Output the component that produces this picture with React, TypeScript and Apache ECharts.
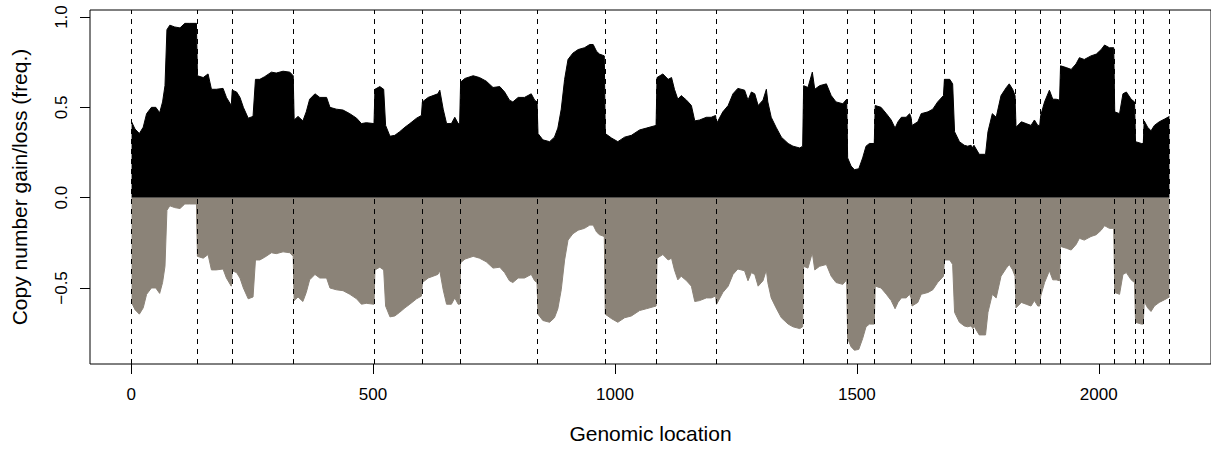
import React, { useEffect, useRef } from "react";
import * as echarts from "echarts";

// Genomic position (probe index) of each sampled point
const positions = [
  1, 8, 17, 25, 32, 42, 51, 59, 65, 70, 74, 80, 90, 101, 111, 121, 135,
  137, 149, 159, 166, 176, 190, 197, 207,
  209, 218, 225, 232, 242, 252, 257, 266, 276, 290, 300, 314, 328, 335,
  337, 345, 355, 362, 369, 380, 390, 404, 411, 424, 438, 452, 466, 476, 486, 502,
  504, 514, 522, 526, 535, 545, 555, 566, 576, 590, 600,
  602, 614, 624, 634, 638, 645, 652, 662, 669, 676, 679,
  681, 690, 707, 720, 734, 748, 762, 772, 782, 789, 800, 813, 827, 834, 839,
  841, 851, 865, 875, 882, 889, 896, 903, 913, 924, 937, 948, 955, 962, 968, 978,
  980, 993, 1006, 1020, 1034, 1051, 1065, 1085,
  1087, 1099, 1110, 1117, 1123, 1130, 1137, 1148, 1158, 1165, 1175, 1189, 1199, 1208,
  1210, 1223, 1234, 1244, 1254, 1268, 1275, 1282, 1289, 1296, 1306, 1313, 1316, 1323, 1333, 1344, 1358, 1368, 1382, 1388,
  1390, 1399, 1408, 1413, 1423, 1437, 1447, 1457, 1471, 1479,
  1481, 1488, 1495, 1504, 1512, 1519, 1526, 1536,
  1538, 1550, 1561, 1571, 1579, 1585, 1592, 1602, 1609, 1612,
  1614, 1626, 1633, 1647, 1657, 1667, 1679,
  1681, 1692, 1698, 1702, 1712, 1722, 1729, 1736, 1740,
  1742, 1753, 1766, 1771, 1780, 1788, 1798, 1809, 1815, 1822, 1827,
  1829, 1840, 1850, 1860, 1867, 1874, 1878,
  1880, 1888, 1898, 1905, 1912, 1919,
  1921, 1933, 1943, 1953, 1960, 1970, 1984, 1995, 2005, 2012, 2022, 2031,
  2033, 2043, 2050, 2057, 2067, 2074,
  2076, 2088, 2092,
  2094, 2101, 2108, 2115, 2125, 2136, 2146,
];

// Copy number gain frequency
const gain = [
  0.42, 0.38, 0.355, 0.39, 0.465, 0.5, 0.5, 0.47, 0.53, 0.62, 0.93, 0.955, 0.945, 0.94, 0.965, 0.965, 0.965,
  0.675, 0.665, 0.685, 0.6, 0.6, 0.605, 0.555, 0.51,
  0.595, 0.585, 0.555, 0.5, 0.44, 0.45, 0.655, 0.655, 0.67, 0.695, 0.69, 0.7, 0.695, 0.675,
  0.43, 0.45, 0.425, 0.475, 0.545, 0.575, 0.555, 0.555, 0.5, 0.49, 0.485, 0.465, 0.44, 0.41, 0.415, 0.41,
  0.6, 0.615, 0.6, 0.4, 0.34, 0.345, 0.365, 0.39, 0.41, 0.44, 0.455,
  0.53, 0.555, 0.565, 0.575, 0.595, 0.49, 0.41, 0.41, 0.445, 0.41, 0.41,
  0.64, 0.66, 0.675, 0.665, 0.645, 0.61, 0.615, 0.585, 0.54, 0.53, 0.555, 0.555, 0.575, 0.54, 0.53,
  0.355, 0.32, 0.31, 0.335, 0.385, 0.49, 0.655, 0.765, 0.8, 0.82, 0.83, 0.848, 0.848, 0.81, 0.795, 0.785,
  0.355, 0.33, 0.31, 0.335, 0.345, 0.375, 0.385, 0.4,
  0.665, 0.685, 0.655, 0.665, 0.6, 0.545, 0.565, 0.54, 0.51, 0.425, 0.43, 0.445, 0.445, 0.455,
  0.41, 0.475, 0.51, 0.575, 0.605, 0.595, 0.54, 0.585, 0.575, 0.51, 0.54, 0.6, 0.53, 0.445, 0.39, 0.335, 0.3, 0.285, 0.275, 0.285,
  0.62, 0.61, 0.695, 0.6, 0.62, 0.63, 0.565, 0.53, 0.52, 0.545,
  0.22, 0.175, 0.155, 0.16, 0.22, 0.285, 0.3, 0.3,
  0.51, 0.5, 0.465, 0.43, 0.385, 0.42, 0.445, 0.445, 0.465, 0.445,
  0.4, 0.42, 0.465, 0.475, 0.49, 0.53, 0.565,
  0.655, 0.655, 0.63, 0.365, 0.31, 0.29, 0.285, 0.29, 0.275,
  0.29, 0.24, 0.24, 0.365, 0.465, 0.445, 0.565, 0.61, 0.63, 0.6, 0.565,
  0.39, 0.42, 0.41, 0.4, 0.43, 0.4, 0.4,
  0.455, 0.53, 0.595, 0.545, 0.545, 0.54,
  0.73, 0.72, 0.71, 0.74, 0.775, 0.765, 0.785, 0.795, 0.82, 0.845, 0.83, 0.83,
  0.475, 0.465, 0.575, 0.585, 0.545, 0.53,
  0.31, 0.3, 0.3,
  0.425, 0.39, 0.37, 0.4, 0.42, 0.435, 0.45,
];

// Copy number loss frequency (negative)
const loss = [
  -0.58, -0.62, -0.645, -0.61, -0.535, -0.5, -0.5, -0.53, -0.47, -0.38, -0.07, -0.045, -0.055, -0.06, -0.035, -0.035, -0.035,
  -0.325, -0.335, -0.315, -0.4, -0.4, -0.395, -0.445, -0.49,
  -0.405, -0.415, -0.445, -0.5, -0.56, -0.55, -0.345, -0.345, -0.33, -0.305, -0.31, -0.3, -0.305, -0.325,
  -0.57, -0.55, -0.575, -0.525, -0.455, -0.425, -0.445, -0.445, -0.5, -0.51, -0.515, -0.535, -0.56, -0.59, -0.585, -0.59,
  -0.4, -0.385, -0.4, -0.6, -0.66, -0.655, -0.635, -0.61, -0.59, -0.56, -0.545,
  -0.47, -0.445, -0.435, -0.425, -0.405, -0.51, -0.59, -0.59, -0.555, -0.59, -0.59,
  -0.36, -0.34, -0.325, -0.335, -0.355, -0.39, -0.385, -0.415, -0.46, -0.47, -0.445, -0.445, -0.425, -0.46, -0.47,
  -0.645, -0.68, -0.69, -0.665, -0.615, -0.51, -0.345, -0.235, -0.2, -0.18, -0.17, -0.152, -0.152, -0.19, -0.205, -0.215,
  -0.645, -0.67, -0.69, -0.665, -0.655, -0.625, -0.615, -0.6,
  -0.335, -0.315, -0.345, -0.335, -0.4, -0.455, -0.435, -0.46, -0.49, -0.575, -0.57, -0.555, -0.555, -0.545,
  -0.59, -0.525, -0.49, -0.425, -0.395, -0.405, -0.46, -0.415, -0.425, -0.49, -0.46, -0.4, -0.47, -0.555, -0.61, -0.665, -0.7, -0.715, -0.725, -0.715,
  -0.38, -0.39, -0.305, -0.4, -0.38, -0.37, -0.435, -0.47, -0.48, -0.455,
  -0.78, -0.825, -0.845, -0.84, -0.78, -0.715, -0.7, -0.7,
  -0.49, -0.5, -0.535, -0.57, -0.615, -0.58, -0.555, -0.555, -0.535, -0.555,
  -0.6, -0.58, -0.535, -0.525, -0.51, -0.47, -0.435,
  -0.345, -0.345, -0.37, -0.635, -0.69, -0.71, -0.715, -0.71, -0.725,
  -0.71, -0.76, -0.76, -0.635, -0.535, -0.555, -0.435, -0.39, -0.37, -0.4, -0.435,
  -0.61, -0.58, -0.59, -0.6, -0.57, -0.6, -0.6,
  -0.545, -0.47, -0.405, -0.455, -0.455, -0.46,
  -0.27, -0.28, -0.29, -0.26, -0.225, -0.235, -0.215, -0.205, -0.18, -0.155, -0.17, -0.17,
  -0.525, -0.535, -0.425, -0.415, -0.455, -0.47,
  -0.69, -0.7, -0.7,
  -0.575, -0.61, -0.63, -0.6, -0.58, -0.565, -0.55,
];

// Chromosome arm boundaries (dashed lines)
const boundaries = [
  1, 136, 208, 336, 503, 601, 680, 840, 979, 1086, 1209, 1389, 1480, 1537,
  1613, 1680, 1741, 1828, 1879, 1920, 2032, 2075, 2093, 2146,
];

const xTicks = [0, 500, 1000, 1500, 2000];
const yTicks = [-0.5, 0, 0.5, 1];

const FONT = "'Liberation Sans', Arial, Helvetica, sans-serif";

export default function App() {
  const ref = useRef<HTMLDivElement>(null);

  useEffect(() => {
    document.body.style.margin = "0";
    const chart = echarts.init(ref.current!, null, { renderer: "svg" });
    const gainData = positions.map((x, i) => [x, gain[i]]);
    const lossData = positions.map((x, i) => [x, loss[i]]);
    chart.setOption({
      animation: false,
      grid: {
        left: 90,
        top: 10,
        width: 1121.6,
        height: 358.3,
        show: true,
        borderColor: "#000",
        borderWidth: 1,
        backgroundColor: "transparent",
        containLabel: false,
      },
      xAxis: {
        type: "value",
        min: -85,
        max: 2232,
        name: "Genomic location",
        nameLocation: "middle",
        nameGap: 59,
        nameTextStyle: { fontFamily: FONT, fontSize: 21, color: "#000" },
        axisLine: { show: false, onZero: false },
        axisTick: {
          show: true,
          length: 10,
          customValues: xTicks,
          lineStyle: { color: "#000", width: 1 },
        },
        axisLabel: {
          customValues: xTicks,
          margin: 22,
          fontFamily: FONT,
          fontSize: 17,
          color: "#000",
          formatter: (v: number) => String(v),
        },
        splitLine: { show: false },
      },
      yAxis: {
        type: "value",
        min: -0.921,
        max: 1.039,
        name: "Copy number gain/loss (freq.)",
        nameLocation: "middle",
        nameRotate: 90,
        nameGap: 60,
        nameTextStyle: { fontFamily: FONT, fontSize: 21, color: "#000" },
        axisLine: { show: false, onZero: false },
        axisTick: {
          show: true,
          length: 10,
          customValues: yTicks,
          lineStyle: { color: "#000", width: 1 },
        },
        axisLabel: {
          customValues: yTicks,
          rotate: 90,
          margin: 20,
          fontFamily: FONT,
          fontSize: 17,
          color: "#000",
          formatter: (v: number) => (v < 0 ? "\u2212" : "") + Math.abs(v).toFixed(1),
        },
        splitLine: { show: false },
      },
      series: [
        {
          name: "gain",
          type: "line",
          data: gainData,
          symbol: "none",
          silent: true,
          lineStyle: { color: "#000", width: 1 },
          areaStyle: { color: "#000", opacity: 1 },
          z: 2,
        },
        {
          name: "loss",
          type: "line",
          data: lossData,
          symbol: "none",
          silent: true,
          lineStyle: { color: "#8b8378", width: 1 },
          areaStyle: { color: "#8b8378", opacity: 1 },
          z: 2,
          markLine: {
            silent: true,
            symbol: ["none", "none"],
            label: { show: false },
            lineStyle: { color: "#000", type: [5, 5], width: 1 },
            data: boundaries.map((b) => ({ xAxis: b })),
          },
        },
      ],
    });
    return () => chart.dispose();
  }, []);

  return <div ref={ref} style={{ width: 1211, height: 449 }} />;
}
